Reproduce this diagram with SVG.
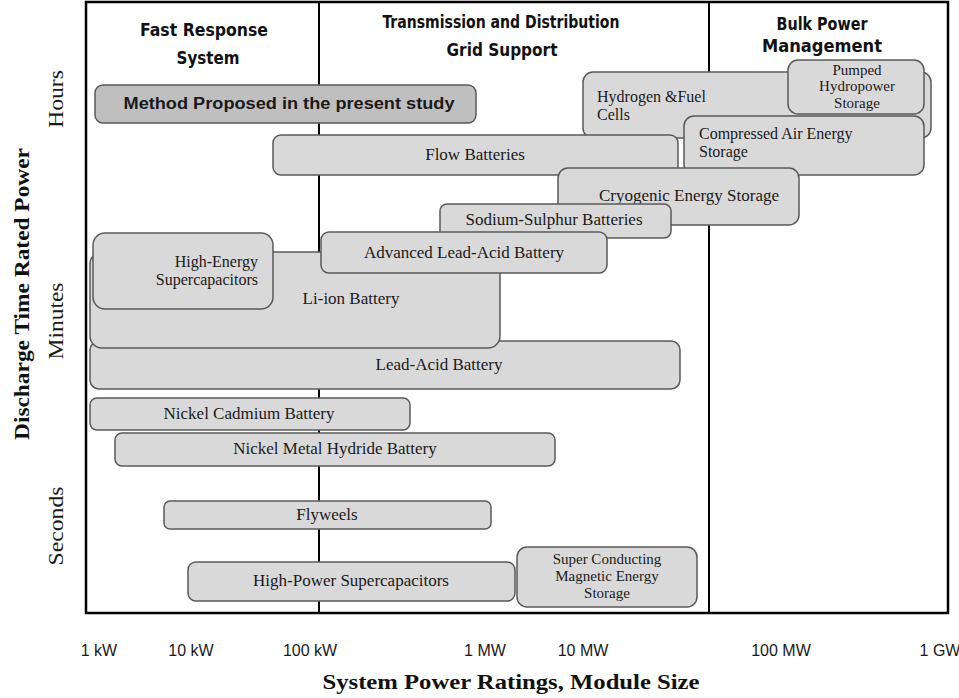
<svg xmlns="http://www.w3.org/2000/svg" width="959" height="698" viewBox="0 0 959 698">
<style>
.box{fill:#d9d9d9;stroke:#595959;stroke-width:1.5}
.prop{fill:#bfbfbf;stroke:#595959;stroke-width:1.5}
.lbl{font-family:"Liberation Serif",serif;font-size:17px;fill:#1a1a1a}
.ml{font-size:16px}
.sm{font-size:15px}
.hdr{font-family:"DejaVu Sans Condensed","DejaVu Sans",sans-serif;font-weight:bold;font-size:18px;fill:#111;text-anchor:middle}
.tick{font-family:"Liberation Sans",sans-serif;font-size:16px;fill:#1a1a1a;text-anchor:middle}
.ax{font-family:"Liberation Serif",serif;font-size:20px;fill:#1a1a1a;text-anchor:middle}
.mid{text-anchor:middle}
</style>
<rect x="0" y="0" width="959" height="698" fill="#fff"/>
<g id="frame">
<rect x="86" y="2" width="862" height="611" fill="none" stroke="#000" stroke-width="2.5"/>
<line x1="319" y1="2" x2="319" y2="613" stroke="#000" stroke-width="2"/>
<line x1="709" y1="2" x2="709" y2="613" stroke="#000" stroke-width="2"/>
</g>
<g id="headers">
<text class="hdr" x="204" y="36" textLength="128" lengthAdjust="spacingAndGlyphs">Fast Response</text>
<text class="hdr" x="208" y="64" textLength="63" lengthAdjust="spacingAndGlyphs">System</text>
<text class="hdr" x="501" y="28" textLength="237" lengthAdjust="spacingAndGlyphs">Transmission and Distribution</text>
<text class="hdr" x="502" y="56" textLength="111" lengthAdjust="spacingAndGlyphs">Grid Support</text>
<text class="hdr" x="822" y="30" textLength="91" lengthAdjust="spacingAndGlyphs">Bulk Power</text>
<text class="hdr" x="822" y="52" textLength="120" lengthAdjust="spacingAndGlyphs">Management</text>
</g>
<g id="method">
<rect class="prop" x="95" y="85" width="381" height="38" rx="8"/>
<text x="289" y="109" font-family="Liberation Sans, sans-serif" font-weight="bold" font-size="16" fill="#1a1a1a" text-anchor="middle" textLength="331" lengthAdjust="spacingAndGlyphs">Method Proposed in the present study</text>
</g>
<g id="hydrogen">
<rect class="box" x="583" y="72" width="348" height="66" rx="10"/>
<text class="lbl ml" x="597" y="102">Hydrogen &amp;Fuel</text>
<text class="lbl ml" x="597" y="120">Cells</text>
</g>
<g id="pumped">
<rect class="box" x="788" y="60" width="136" height="54" rx="10"/>
<text class="lbl sm mid" x="857" y="75">Pumped</text>
<text class="lbl sm mid" x="857" y="91">Hydropower</text>
<text class="lbl sm mid" x="857" y="108">Storage</text>
</g>
<g id="compressed">
<rect class="box" x="684" y="116" width="240" height="59" rx="10"/>
<text class="lbl ml" x="699" y="139">Compressed  Air Energy</text>
<text class="lbl ml" x="699" y="157">Storage</text>
</g>
<g id="flow">
<rect class="box" x="273" y="135" width="405" height="40" rx="8"/>
<text class="lbl mid" x="475" y="160">Flow Batteries</text>
</g>
<g id="cryogenic">
<rect class="box" x="558" y="168" width="241" height="57" rx="10"/>
<text class="lbl mid" x="689" y="201">Cryogenic  Energy Storage</text>
</g>
<g id="sodium">
<rect class="box" x="440" y="204" width="231" height="34" rx="7"/>
<text class="lbl mid" x="554" y="225" font-size="16">Sodium-Sulphur Batteries</text>
</g>
<g id="leadacid">
<rect class="box" x="90" y="341" width="590" height="48" rx="9"/>
<text class="lbl mid" x="439" y="370">Lead-Acid Battery</text>
</g>
<g id="liion">
<rect class="box" x="90" y="252" width="410" height="96" rx="12"/>
<text class="lbl mid" x="351" y="304">Li-ion Battery</text>
</g>
<g id="highenergy">
<rect class="box" x="93" y="233" width="180" height="76" rx="12"/>
<text class="lbl ml" x="258" y="267" text-anchor="end">High-Energy</text>
<text class="lbl ml" x="258" y="285" text-anchor="end">Supercapacitors</text>
</g>
<g id="advanced">
<rect class="box" x="321" y="232" width="286" height="41" rx="8"/>
<text class="lbl mid" x="464" y="258">Advanced Lead-Acid Battery</text>
</g>
<g id="nicd">
<rect class="box" x="90" y="398" width="320" height="32" rx="7"/>
<text class="lbl mid" x="249" y="419">Nickel Cadmium Battery</text>
</g>
<g id="nimh">
<rect class="box" x="115" y="433" width="440" height="33" rx="7"/>
<text class="lbl mid" x="335" y="454">Nickel Metal Hydride Battery</text>
</g>
<g id="flywheels">
<rect class="box" x="164" y="501" width="327" height="28" rx="6"/>
<text class="lbl mid" x="327" y="520">Flyweels</text>
</g>
<g id="hps">
<rect class="box" x="188" y="562" width="327" height="39" rx="8"/>
<text class="lbl mid" x="351" y="586">High-Power Supercapacitors</text>
</g>
<g id="smes">
<rect class="box" x="517" y="547" width="180" height="60" rx="10"/>
<text class="lbl sm mid" x="607" y="564">Super Conducting</text>
<text class="lbl sm mid" x="607" y="581">Magnetic Energy</text>
<text class="lbl sm mid" x="607" y="598">Storage</text>
</g>
<g id="connectors"></g>
<g id="axes">
<text class="ax" transform="translate(63,99) rotate(-90)" textLength="58" lengthAdjust="spacingAndGlyphs">Hours</text>
<text class="ax" transform="translate(63,321) rotate(-90)" textLength="77" lengthAdjust="spacingAndGlyphs">Minutes</text>
<text class="ax" transform="translate(63,526) rotate(-90)" textLength="79" lengthAdjust="spacingAndGlyphs">Seconds</text>
<text transform="translate(29,294) rotate(-90)" font-family="Liberation Serif, serif" font-weight="bold" font-size="21" fill="#111" text-anchor="middle" textLength="292" lengthAdjust="spacingAndGlyphs">Discharge Time Rated Power</text>
<text class="tick" x="99" y="656">1 kW</text>
<text class="tick" x="191" y="656">10 kW</text>
<text class="tick" x="310" y="656">100 kW</text>
<text class="tick" x="485" y="656">1 MW</text>
<text class="tick" x="583" y="656">10 MW</text>
<text class="tick" x="781" y="656">100 MW</text>
<text class="tick" x="940" y="656">1 GW</text>
<text x="511" y="689" font-family="Liberation Serif, serif" font-weight="bold" font-size="20" fill="#111" text-anchor="middle" textLength="377" lengthAdjust="spacingAndGlyphs">System Power Ratings, Module Size</text>
</g>
</svg>
